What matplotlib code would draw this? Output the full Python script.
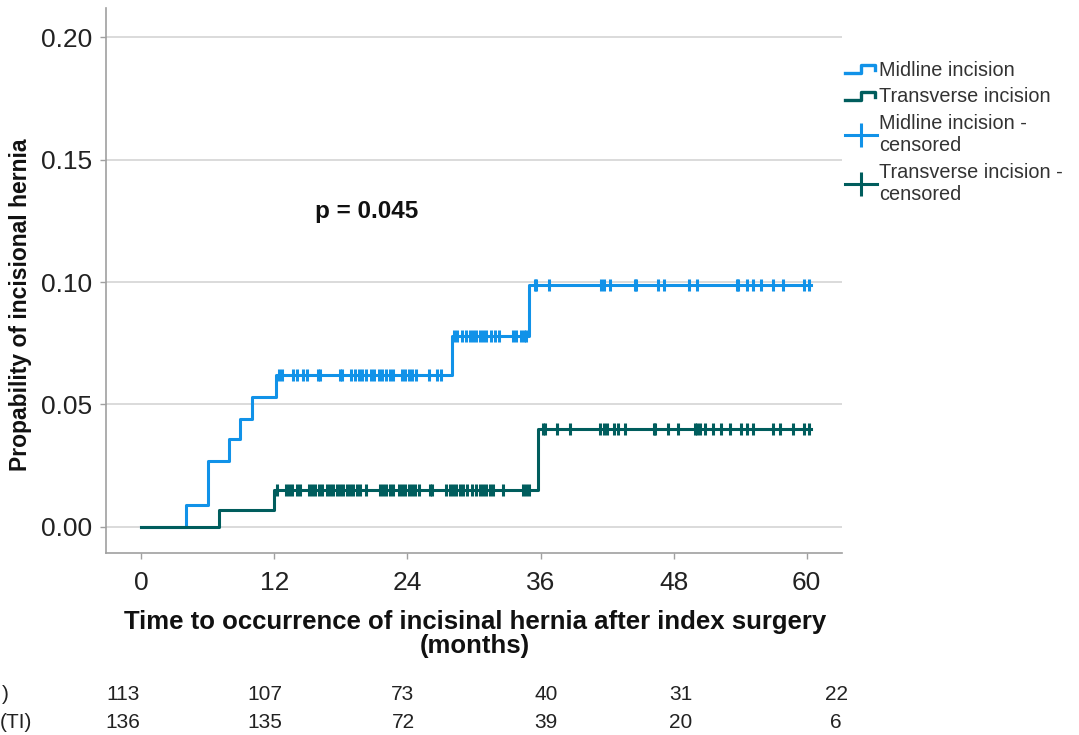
import numpy as np
import matplotlib
matplotlib.use("Agg")
import matplotlib.pyplot as plt
from matplotlib.lines import Line2D
from matplotlib.legend_handler import HandlerBase

plt.rcParams['font.family'] = ['Liberation Sans', 'DejaVu Sans']

# event steps (months, cumulative probability)
mi_times = [0, 4.0, 6.0, 7.9, 8.9, 10.0, 12.1, 28.0, 35.0]
mi_prob = [0, 0.009, 0.027, 0.036, 0.044, 0.053, 0.062, 0.078, 0.099]
ti_times = [0, 7.0, 12.0, 35.8]
ti_prob = [0, 0.007, 0.015, 0.040]
follow_end = 60.4

# censoring times (months)
mi_censored = [12.4, 12.7, 13.7, 14.0, 14.6, 14.9, 15.9, 16.1, 17.9, 18.1,
               18.9, 19.3, 19.6, 19.9, 20.3, 20.7, 21.0, 21.4, 21.7, 22.1,
               22.4, 22.7, 23.5, 23.8, 24.1, 24.4, 24.8, 25.9, 26.7, 27.0,
               28.2, 28.5, 28.9, 29.3, 29.6, 29.9, 30.2, 30.5, 30.8, 31.1,
               31.5, 31.9, 32.3, 33.5, 33.8, 34.2, 34.5, 34.7,
               35.5, 35.6, 36.8, 41.5, 41.7, 42.3, 44.5, 44.6, 46.6, 47.1,
               49.4, 50.1, 53.7, 53.8, 54.6, 55.2, 55.9, 57.0, 57.9, 59.8, 60.2]
ti_censored = [12.2, 13.0, 13.3, 13.6, 14.0, 14.3, 15.1, 15.4, 15.7, 16.0,
               16.3, 16.7, 17.0, 17.3, 17.6, 17.9, 18.2, 18.5, 18.8, 19.1,
               19.4, 19.7, 20.3, 21.5, 21.8, 22.1, 22.4, 22.7, 23.2, 23.5,
               23.8, 24.1, 24.4, 24.7, 25.0, 26.0, 26.2, 27.5, 27.8, 28.1,
               28.4, 28.7, 29.0, 29.4, 29.8, 30.2, 30.5, 30.8, 31.1, 31.4,
               31.7, 32.6, 34.4, 34.7, 35.0,
               36.2, 36.4, 37.5, 38.7, 41.4, 41.7, 42.0, 42.6, 43.0, 43.6,
               46.2, 46.3, 47.5, 48.4, 49.9, 50.1, 50.4, 50.8, 51.6, 52.3,
               53.1, 54.1, 54.6, 55.2, 57.0, 57.6, 58.8, 59.8, 60.2]

x_ticks = [0, 12, 24, 36, 48, 60]
risk_mi = [113, 107, 73, 40, 31, 22]
risk_ti = [136, 135, 72, 39, 20, 6]

blue = '#1192e8'
teal = '#005d5d'
narrow = ['Liberation Sans Narrow', 'Liberation Sans', 'DejaVu Sans']


def step_value(times, probs, t):
    idx = np.searchsorted(times, t, side='right') - 1
    return np.asarray(probs)[idx]


class StepHandler(HandlerBase):
    # little step glyph like the SPSS legend
    def create_artists(self, legend, orig_handle, xdescent, ydescent,
                       width, height, fontsize, trans):
        x0, y0 = -xdescent, -ydescent
        xs = [x0, x0 + 0.5 * width, x0 + 0.5 * width, x0 + 0.95 * width, x0 + 0.95 * width]
        ys = [y0 + 0.2 * height, y0 + 0.2 * height, y0 + 0.75 * height,
              y0 + 0.75 * height, y0 + 0.4 * height]
        ln = Line2D(xs, ys, color=orig_handle.get_color(), lw=2.4)
        ln.set_transform(trans)
        return [ln]


fig = plt.figure(figsize=(10.79, 7.35), dpi=100)
ax = fig.add_axes([106 / 1079, 1 - 553 / 735, (842 - 106) / 1079, (553 - 8) / 735])

for times, probs, cens, col in [(mi_times, mi_prob, mi_censored, blue),
                                (ti_times, ti_prob, ti_censored, teal)]:
    xs = list(times) + [follow_end]
    ys = list(probs) + [probs[-1]]
    ax.step(xs, ys, where='post', color=col, lw=2.2, zorder=3)
    cy = step_value(times, probs, np.array(cens))
    ax.plot(cens, cy, ls='none', marker='|', ms=8, mew=2.2, color=col, zorder=4)

ax.set_xlim(-3.2, 63.2)
ax.set_ylim(-0.0107, 0.212)
ax.set_xticks(x_ticks)
ax.set_yticks([0, 0.05, 0.10, 0.15, 0.20])
ax.set_yticklabels(['0.00', '0.05', '0.10', '0.15', '0.20'])
ax.yaxis.grid(True, color='#d4d4d4', lw=1.2)
ax.set_axisbelow(True)
for s in ['top', 'right']:
    ax.spines[s].set_visible(False)
for s in ['left', 'bottom']:
    ax.spines[s].set_color('#a0a0a0')
    ax.spines[s].set_linewidth(1.2)
ax.tick_params(axis='both', labelsize=19, colors='#a0a0a0', labelcolor='#222222',
               length=4, width=1)
ax.tick_params(axis='x', pad=9)
ax.tick_params(axis='y', pad=6)

ax.text(20.3, 0.1287, 'p = 0.045', fontsize=17.5, fontweight='bold',
        ha='center', va='center', color='#111111')

fig.text(475 / 1079, 1 - 634 / 735,
         'Time to occurrence of incisinal hernia after index surgery\n(months)',
         ha='center', va='center', fontsize=18.5, fontweight='bold',
         linespacing=0.95, color='#111111')
fig.text(21 / 1079, 1 - 305 / 735, 'Propability of incisional hernia',
         rotation=90, ha='center', va='center', fontsize=16.5,
         fontweight='bold', color='#111111')

# numbers at risk
risk_x = [123, 265, 403, 546, 681, 836]
for xp, a, b in zip(risk_x, risk_mi, risk_ti):
    fig.text(xp / 1079, 1 - 695 / 735, str(a), ha='center', va='center',
             fontsize=15, color='#222222', family=narrow)
    fig.text(xp / 1079, 1 - 722 / 735, str(b), ha='center', va='center',
             fontsize=15, color='#222222', family=narrow)
fig.text(2 / 1079, 1 - 695 / 735, ')', ha='left', va='center', fontsize=15,
         color='#222222', family=narrow)
fig.text(0 / 1079, 1 - 722 / 735, '(TI)', ha='left', va='center', fontsize=15,
         color='#222222', family=narrow)

handles = [Line2D([], [], color=blue), Line2D([], [], color=teal),
           Line2D([], [], color=blue, marker='|', ms=17, mew=2.2, lw=2.2),
           Line2D([], [], color=teal, marker='|', ms=17, mew=2.2, lw=2.2)]
labels = ['Midline incision', 'Transverse incision',
          'Midline incision -\ncensored', 'Transverse incision -\ncensored']
fig.legend(handles, labels, loc='upper left',
           bbox_to_anchor=(827 / 1079, 1 - 43 / 735), frameon=False,
           fontsize=14.3, handlelength=1.6, handletextpad=0.12,
           labelspacing=0.38,
           handler_map={handles[0]: StepHandler(), handles[1]: StepHandler()},
           labelcolor='#333333')

fig.savefig('out.png', dpi=100)
